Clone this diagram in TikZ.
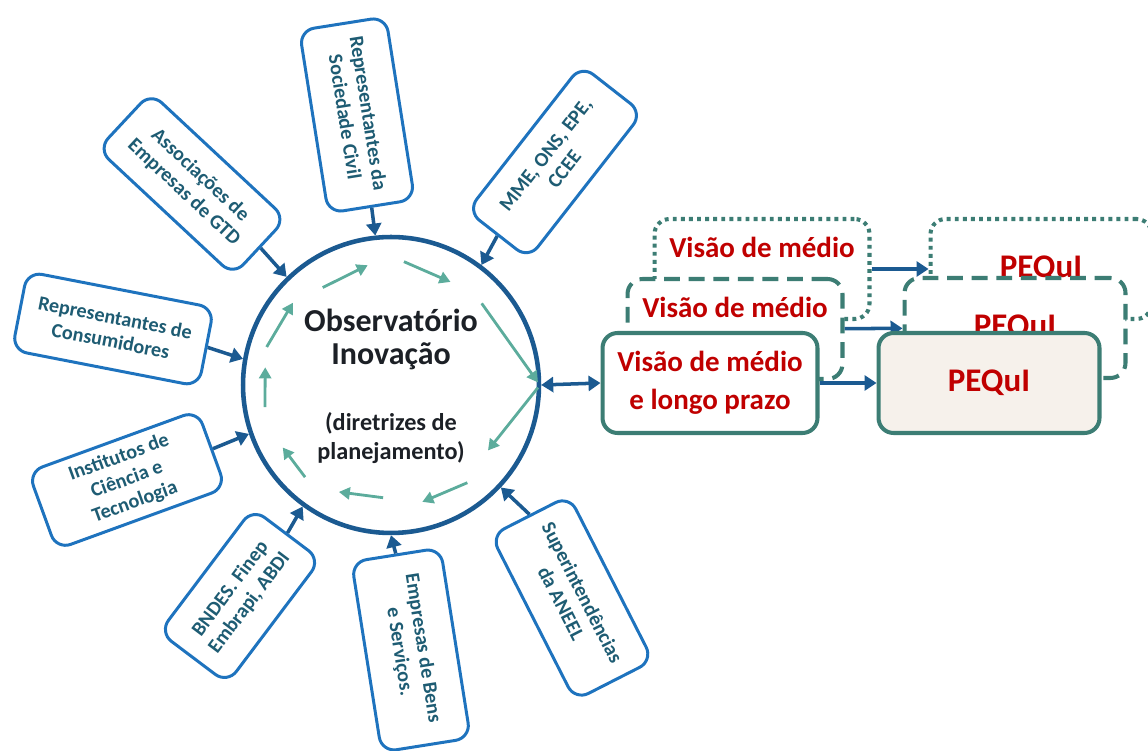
\documentclass[tikz,border=0pt]{standalone}
\usepackage{fontspec}
\setmainfont{Carlito}
\usetikzlibrary{arrows.meta,calc}
\definecolor{azul}{RGB}{27,90,145}
\definecolor{borda}{RGB}{30,115,190}
\definecolor{textoazul}{RGB}{30,92,115}
\definecolor{verde}{RGB}{92,172,156}
\definecolor{verdeesc}{RGB}{60,125,116}
\definecolor{vermelho}{RGB}{192,0,0}
\definecolor{bege}{RGB}{246,241,235}
\definecolor{escuro}{RGB}{28,32,38}

\begin{document}
\begin{tikzpicture}[x=0.02cm,y=0.02cm,>={Triangle[length=0.24cm,width=0.3cm]},
    actor/.style={draw=borda,line width=1.7pt,rounded corners=0.3cm,fill=white,
        text=textoazul,font=\fontsize{11.5}{13.5}\selectfont\bfseries,align=center,
        minimum width=3.7cm,minimum height=1.6cm,inner sep=2pt},
    link/.style={azul,line width=2pt,->},
    ciclo/.style={verde,line width=1.6pt,-{Triangle[length=0.22cm,width=0.24cm]}}]
    \tikzstyle{plano}=[draw=verdeesc,line width=2.3pt,rounded corners=0.3cm,fill=white,
        text=vermelho,font=\fontsize{16.5}{21.5}\selectfont\bfseries,align=center,
        minimum width=4.3cm,minimum height=2cm]
    \tikzstyle{meta}=[plano,minimum width=4.42cm,font=\fontsize{18.8}{22}\selectfont\bfseries]
    \useasboundingbox (0,0) rectangle (1148,750);

    \node[draw=azul,line width=2.6pt,circle,minimum size=5.92cm] (obs) at (391,365) {};
    \node[text=escuro,align=center,font=\fontsize{18.2}{18.8}\selectfont\bfseries] (titulo) at (391,411) {Observatório\\Inovação};
    \node[text=escuro,align=center,font=\fontsize{13.8}{16}\selectfont\bfseries] (diretriz) at (391,312) {(diretrizes de\\planejamento)};

    \foreach \a/\r/\b/\s in {125/119/101/122, 84/124/60/119, 42/122/1/147,
        -1/147/-34/117, -52/124/-75/121, -94/113/-116/119, -133/126/-150/125,
        190/128/172/127, 163/130/140/128}
        \draw[ciclo] ($(obs.center)+(\a:\r)$) -- ($(obs.center)+(\b:\s)$);

    \node[actor,rotate=-81,minimum height=1.75cm] (civil) at (357,635) {Representantes da\\Sociedade Civil};
    \node[actor,rotate=52,minimum height=1.55cm] (mme) at (555,588) {MME, ONS, EPE,\\CCEE};
    \node[actor,rotate=-43,minimum height=1.55cm] (assoc) at (192,566) {Associações de\\Empresas de GTD};
    \node[actor,rotate=-11,minimum width=3.8cm] (consum) at (113,421) {Representantes de\\Consumidores};
    \node[actor,rotate=20,minimum width=3.6cm,minimum height=1.65cm] (inst) at (127,270) {Institutos de\\Ciência e\\Tecnologia};
    \node[actor,rotate=53,minimum width=3.1cm,minimum height=1.7cm] (bndes) at (240,154) {BNDES. Finep\\Embrapi, ABDI};
    \node[actor,rotate=-81,minimum width=3.85cm,minimum height=1.8cm] (bens) at (411,100) {Empresas de Bens\\e Serviços.};
    \node[actor,rotate=-63,minimum height=1.75cm] (aneel) at (572,152) {Superintendências\\da ANEEL};

    \draw[link] (civil.east) -- (obs.96);
    \draw[link] (mme.west) -- (obs.53);
    \draw[link] (assoc.east) -- (obs.134);
    \draw[link] (consum.east) -- (obs.170);
    \draw[link] (inst.east) -- (obs.199);
    \draw[link] (bndes.east) -- (obs.234);
    \draw[link] (bens.west) -- (obs.270);
    \draw[link] (aneel.west) -- (obs.317);

    \node[plano,dash pattern=on 2.2pt off 2.4pt] (vdot) at (762,481) {Visão de médio\\\phantom{e longo prazo}};
    \node[meta,dash pattern=on 2.2pt off 2.4pt] (pdot) at (1041,481) {PEQuI};
    \draw[link] (vdot) -- (pdot);

    \node[plano,dash pattern=on 9pt off 5pt] (vdash) at (735,421) {Visão de médio\\\phantom{e longo prazo}};
    \node[meta,dash pattern=on 9pt off 5pt] (pdash) at (1015,422) {PEQuI};
    \draw[link] (vdash) -- (pdash);

    \node[plano] (visao) at (710,367) {Visão de médio\\e longo prazo};
    \node[meta,fill=bege] (pequi) at (989,367) {PEQuI};
    \draw[link] (visao) -- (pequi);
    \draw[link,<->] (obs.east) -- (visao.west);
\end{tikzpicture}
\end{document}
